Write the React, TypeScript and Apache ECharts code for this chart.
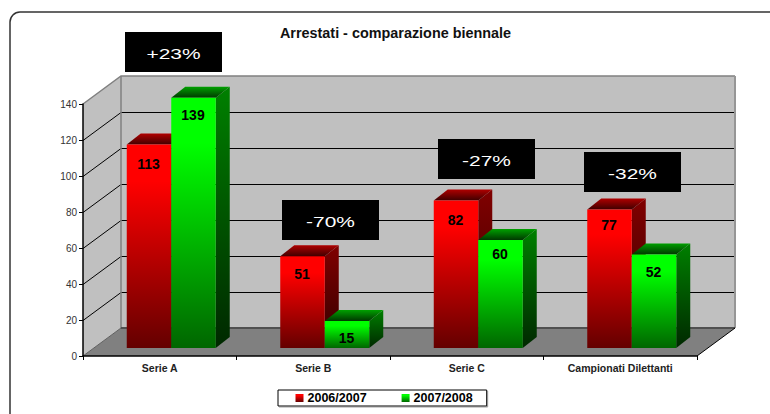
import React, { useEffect, useRef } from "react";
import * as echarts from "echarts";

const titleText = "Arrestati - comparazione biennale";
const categories = ["Serie A", "Serie B", "Serie C", "Campionati Dilettanti"];
const seriesNames = ["2006/2007", "2007/2008"];
const values2006 = [113, 51, 82, 77];
const values2007 = [139, 15, 60, 52];
const gridTicks = [20, 40, 60, 80, 100, 120];
const changeLabels = ["+23%", "-70%", "-27%", "-32%"];

const DEPTH_X = 38;
const DEPTH_Y = -28;
const BAR_W = 44.5;
const BAR_SHIFT_X = 11.5;
const BAR_SHIFT_Y = -8;
const BAR_DX = 14;
const BAR_DY = -11;
const labelDrop = [
  [19, 18, 20, 16],
  [17, 17, 14, 18],
];

const vGrad = (stops: [number, string][]) =>
  new echarts.graphic.LinearGradient(0, 0, 0, 1, stops.map(([offset, color]) => ({ offset, color })));

const palettes = [
  {
    front: () => vGrad([[0, "#ff0000"], [0.18, "#ff0000"], [1, "#640000"]]),
    side: () => vGrad([[0, "#800000"], [1, "#300000"]]),
    top: () => vGrad([[0, "#b00000"], [1, "#400000"]]),
  },
  {
    front: () => vGrad([[0, "#00ff00"], [0.18, "#00ff00"], [1, "#006600"]]),
    side: () => vGrad([[0, "#008000"], [1, "#002800"]]),
    top: () => vGrad([[0, "#00a000"], [1, "#003800"]]),
  },
];

function renderWalls(params: any, api: any) {
  const { x, y, width, height } = params.coordSys;
  const x1 = x + width;
  const y0 = y + height;
  const line = (pts: number[][], stroke: string, lineWidth = 1, z2 = 2) => ({
    type: "polyline",
    z2,
    shape: { points: pts },
    style: { stroke, lineWidth, fill: "none" },
  });
  const children: any[] = [
    {
      type: "polygon", z2: 0,
      shape: { points: [[x, y0], [x + DEPTH_X, y0 + DEPTH_Y], [x + DEPTH_X, y + DEPTH_Y], [x, y]] },
      style: { fill: "#c0c0c0" },
    },
    {
      type: "polygon", z2: 0,
      shape: { points: [[x + DEPTH_X, y0 + DEPTH_Y], [x1 + DEPTH_X, y0 + DEPTH_Y], [x1 + DEPTH_X, y + DEPTH_Y], [x + DEPTH_X, y + DEPTH_Y]] },
      style: { fill: "#c0c0c0" },
    },
    {
      type: "polygon", z2: 1,
      shape: { points: [[x, y0], [x + DEPTH_X, y0 + DEPTH_Y], [x1 + DEPTH_X, y0 + DEPTH_Y], [x1, y0]] },
      style: { fill: "#808080" },
    },
  ];
  gridTicks.forEach((t) => {
    const py = Math.round(api.coord([0, t])[1]) + 0.5;
    children.push(line([[x, py], [x + DEPTH_X, py + DEPTH_Y], [x1 + DEPTH_X, py + DEPTH_Y]], "#000000", 1));
  });
  children.push(line([[x, y], [x + DEPTH_X, y + DEPTH_Y], [x1 + DEPTH_X, y + DEPTH_Y]], "#808080", 1.5, 3));
  children.push(line([[x + DEPTH_X, y + DEPTH_Y], [x + DEPTH_X, y0 + DEPTH_Y]], "#808080", 1.5, 3));
  children.push(line([[x1 + DEPTH_X, y + DEPTH_Y], [x1 + DEPTH_X, y0 + DEPTH_Y]], "#969696", 2, 3));
  children.push(line([[x + DEPTH_X, y0 + DEPTH_Y], [x1 + DEPTH_X, y0 + DEPTH_Y]], "#505050", 2, 3));
  children.push(line([[x, y0], [x + DEPTH_X, y0 + DEPTH_Y]], "#606060", 1, 3));
  children.push(line([[x1, y0], [x1 + DEPTH_X, y0 + DEPTH_Y]], "#000000", 1, 3));
  return { type: "group", children };
}

const renderBar = (which: number) => (_params: any, api: any) => {
  const cat = api.value(0);
  const val = api.value(1);
  const [cx, yv] = api.coord([cat, val]);
  const y0 = api.coord([cat, 0])[1] + BAR_SHIFT_Y;
  const top = yv + BAR_SHIFT_Y;
  const mid = cx + BAR_SHIFT_X;
  const xa = which === 0 ? mid - BAR_W : mid;
  const xb = xa + BAR_W;
  const pal = palettes[which];
  return {
    type: "group",
    children: [
      {
        type: "polygon",
        shape: { points: [[xb, top], [xb + BAR_DX, top + BAR_DY], [xb + BAR_DX, y0 + BAR_DY], [xb, y0]] },
        style: { fill: pal.side() },
      },
      {
        type: "polygon",
        shape: { points: [[xa, top], [xa + BAR_DX, top + BAR_DY], [xb + BAR_DX, top + BAR_DY], [xb, top]] },
        style: { fill: pal.top() },
      },
      {
        type: "rect",
        shape: { x: xa, y: top, width: xb - xa, height: y0 - top },
        style: { fill: pal.front() },
      },
      {
        type: "text",
        style: {
          x: (xa + xb) / 2 - 0.5,
          y: top + labelDrop[which][cat],
          text: String(val),
          fill: "#000000",
          font: 'bold 14px "Liberation Sans", Arial, sans-serif',
          align: "center",
          verticalAlign: "middle",
        },
      },
    ],
  };
};

const boxPlacement = [
  { x: 125, y: 32 },
  { x: 282, y: 200 },
  { x: 438, y: 139 },
  { x: 584, y: 152 },
];

export default function App() {
  const ref = useRef<HTMLDivElement>(null);
  useEffect(() => {
    const chart = echarts.init(ref.current!, null, { renderer: "svg" });
    const axisFont = '"Liberation Sans", Arial, sans-serif';
    chart.setOption({
      animation: false,
      backgroundColor: "#ffffff",
      title: {
        text: titleText,
        left: 390.5,
        top: 21,
        textAlign: "center",
        textStyle: { fontFamily: axisFont, fontSize: 14.4, fontWeight: "bold", color: "#111111", lineHeight: 14 },
      },
      grid: { left: 83, top: 104, width: 614, height: 252 },
      xAxis: {
        type: "category",
        data: categories,
        z: 5,
        axisLine: { show: true, lineStyle: { color: "#000000", width: 1.5 } },
        axisTick: { show: true, length: 4, lineStyle: { color: "#000000", width: 1 } },
        axisLabel: { interval: 0, fontFamily: axisFont, fontSize: 10.5, fontWeight: "bold", color: "#222222", margin: 6 },
        splitLine: { show: false },
      },
      yAxis: {
        type: "value",
        min: 0,
        max: 140,
        interval: 20,
        z: 5,
        axisLine: { show: true, lineStyle: { color: "#000000", width: 1.5 } },
        axisTick: { show: true, length: 4, lineStyle: { color: "#000000", width: 1 } },
        axisLabel: { fontFamily: axisFont, fontSize: 10, color: "#333333", margin: 6 },
        splitLine: { show: false },
      },
      legend: {
        left: 278,
        top: 390,
        orient: "horizontal",
        itemWidth: 8,
        itemHeight: 8,
        itemGap: 35,
        padding: [1.5, 14, 1.5, 17.5],
        borderColor: "#000000",
        borderWidth: 1,
        shadowColor: "#a0a0a0",
        shadowOffsetX: 1,
        shadowOffsetY: 1,
        shadowBlur: 0,
        backgroundColor: "#ffffff",
        selectedMode: false,
        data: seriesNames.map((name) => ({ name, icon: "rect" })),
        textStyle: { fontFamily: axisFont, fontSize: 12.5, fontWeight: "bold", color: "#000000", padding: [0, 0, 0, -1] },
      },
      series: [
        {
          type: "custom",
          name: "walls",
          coordinateSystem: "cartesian2d",
          z: 1,
          clip: false,
          silent: true,
          data: [[0, 0]],
          renderItem: renderWalls,
        },
        {
          type: "custom",
          name: seriesNames[0],
          coordinateSystem: "cartesian2d",
          z: 3,
          clip: false,
          encode: { x: 0, y: 1 },
          itemStyle: { color: palettes[0].front() },
          data: values2006.map((v, i) => [i, v]),
          renderItem: renderBar(0),
        },
        {
          type: "custom",
          name: seriesNames[1],
          coordinateSystem: "cartesian2d",
          z: 4,
          clip: false,
          encode: { x: 0, y: 1 },
          itemStyle: { color: palettes[1].front() },
          data: values2007.map((v, i) => [i, v]),
          renderItem: renderBar(1),
        },
      ],
      graphic: [
        {
          type: "rect",
          z: -1,
          silent: true,
          shape: { x: 10, y: 12, width: 1000, height: 1000, r: 10 },
          style: { fill: "none", stroke: "#333333", lineWidth: 1.5 },
        },
        ...changeLabels.flatMap((text, i) => [
          {
            type: "rect",
            z: 100,
            shape: { x: boxPlacement[i].x, y: boxPlacement[i].y, width: 97, height: 40 },
            style: { fill: "#000000" },
          },
          {
            type: "text",
            z: 101,
            x: boxPlacement[i].x + 48.5,
            y: boxPlacement[i].y + 22,
            scaleX: 1.35,
            style: {
              text,
              fill: "#ffffff",
              font: '15.5px "Liberation Sans", Arial, sans-serif',
              align: "center",
              verticalAlign: "middle",
            },
          },
        ]),
      ],
    });
    return () => chart.dispose();
  }, []);
  return (
    <div
      ref={ref}
      style={{ position: "fixed", left: 0, top: 0, width: 770, height: 414, overflow: "hidden" }}
    />
  );
}
